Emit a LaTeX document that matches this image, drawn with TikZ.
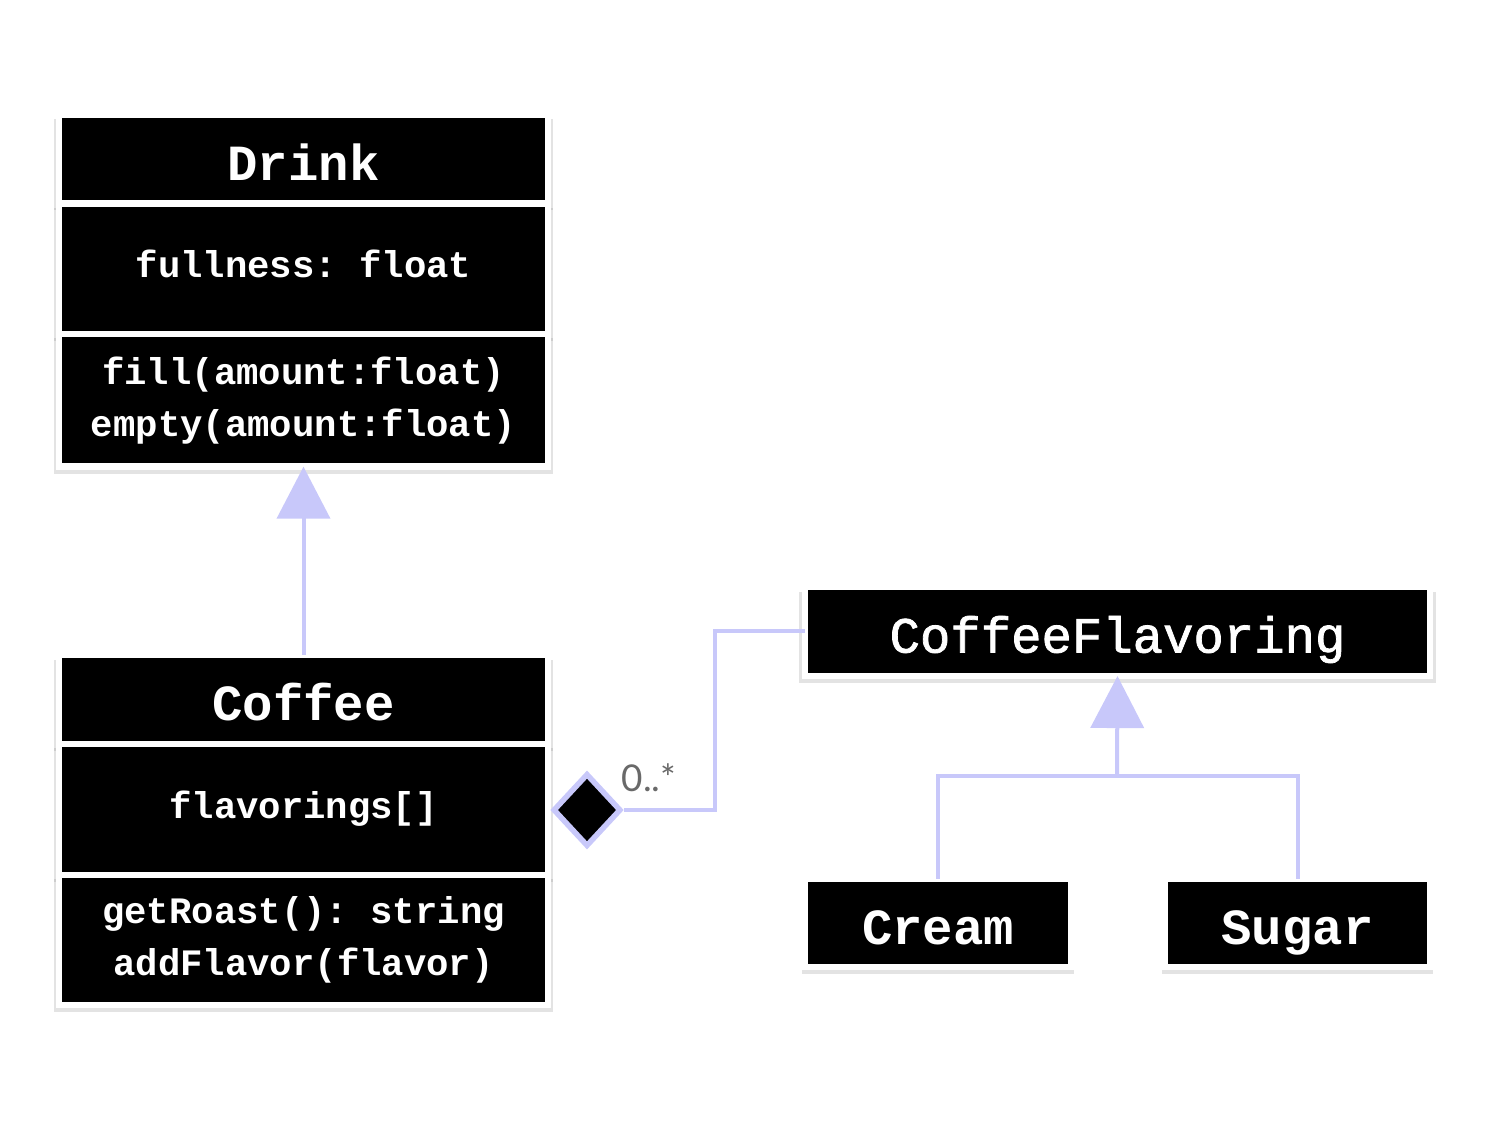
\documentclass[tikz,border=0pt]{standalone}
\usepackage{fontspec}
\setmonofont{Liberation Mono}
\newfontfamily\flavfont[FakeBold=1.5]{Liberation Mono}
\newfontfamily\multfont{Lato}
\usetikzlibrary{positioning,shapes.geometric,arrows.meta,shadows}
\definecolor{lavender}{RGB}{200,200,250}
\definecolor{multgray}{RGB}{105,105,105}

\begin{document}
\begin{tikzpicture}
  [x=0.01cm,y=-0.01cm,
   box/.style={rectangle,fill=black,draw=white,line width=0.065cm,inner sep=0pt,outer sep=0pt,
     text=white,align=center,
     drop shadow={opacity=0.22,shadow xshift=0cm,shadow yshift=-0.055cm,shadow scale=1.02}},
   head/.style={box,font=\fontsize{14.4}{17}\selectfont\ttfamily\bfseries,minimum height=0.89cm,
     text height=12pt,text depth=0pt},
   headlight/.style={head,font=\fontsize{14.4}{17}\selectfont\flavfont},
   body/.style={box,font=\fontsize{10.6}{14.8}\selectfont\ttfamily\bfseries},
   bodyline/.style={body,text height=7pt,text depth=2pt},
   link/.style={draw=lavender,line width=0.04cm},
   inherit/.style={link,-{Triangle[length=0.52cm,width=0.53cm,fill=lavender]}}]
  \useasboundingbox (0,0) rectangle (1500,1125);

  % Drink
  \node[head,minimum width=4.89cm] (drinkhead) at (303.5,159) {Drink};
  \node[bodyline,minimum width=4.89cm,minimum height=1.305cm,below=0pt of drinkhead] (drinkattr) {fullness: float};
  \node[body,minimum width=4.89cm,minimum height=1.325cm,below=0pt of drinkattr] (drinkmeth)
    {fill(amount:float)\\empty(amount:float)};

  % Coffee
  \node[head,minimum width=4.89cm] (cofhead) at (303.5,699.5) {Coffee};
  \node[bodyline,minimum width=4.89cm,minimum height=1.31cm,below=0pt of cofhead] (cofattr) {flavorings[]};
  \node[body,minimum width=4.89cm,minimum height=1.30cm,below=0pt of cofattr] (cofmeth)
    {getRoast(): string\\addFlavor(flavor)};

  % flavorings
  \node[headlight,minimum width=6.25cm] (flavhead) at (1117.5,631.5) {CoffeeFlavoring};
  \node[head,minimum width=2.66cm,minimum height=0.88cm] (cream) at (938,923) {Cream};
  \node[head,minimum width=2.65cm,minimum height=0.88cm] (sugar) at (1297.5,923) {Sugar};

  \node[diamond,fill=black,draw=lavender,line width=0.055cm,inner sep=0pt,
    minimum width=0.68cm,minimum height=0.73cm] (flavdiamond) at (587,810) {};
  \node[font=\multfont\fontsize{10.5}{12}\selectfont,text=multgray,anchor=base west,inner sep=0pt]
    (multlabel) at (621,791) {0..*};

  \coordinate (flavjoin) at (1117,776);

  \draw[inherit] (cofhead.north) -- (drinkmeth.south);
  \draw[link] (flavdiamond.east) -- ++(91,0) |- (flavhead.west);
  \draw[link] (cream.north) |- (flavjoin) -| (sugar.north);
  \draw[inherit] (flavjoin) -- (flavhead.south);

\end{tikzpicture}
\end{document}
